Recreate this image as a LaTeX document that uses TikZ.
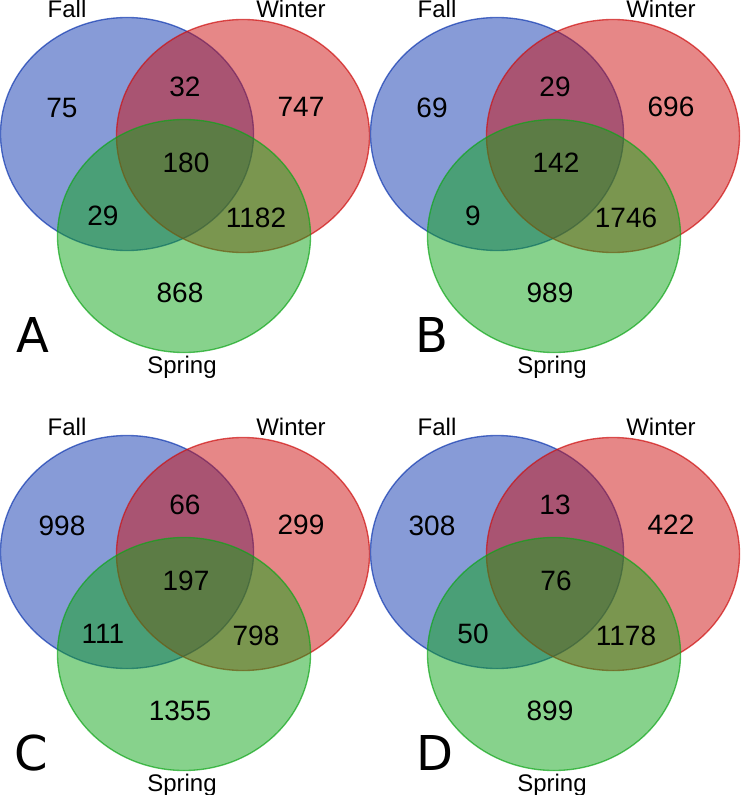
\documentclass[tikz,border=0pt]{standalone}
\usepackage{fontspec}
\setmainfont{Liberation Sans}
\newfontfamily\tagfont{DejaVu Sans}
\begin{document}
\begin{tikzpicture}[x=0.75pt,y=-0.75pt,
	set/.style={fill opacity=0.5,draw opacity=0.7,line width=1pt},
	count/.style={inner sep=0pt,font=\fontsize{21}{25}\selectfont},
	season/.style={inner sep=0pt,font=\fontsize{18}{21}\selectfont},
	tag/.style={inner sep=0pt,font=\tagfont\fontsize{36}{40}\selectfont}]
	\pgfmathsetmacro{\rx}{126.5}
	\pgfmathsetmacro{\ry}{116.5}
	\definecolor{fallcol}{RGB}{15,55,175}
	\definecolor{wintercol}{RGB}{205,15,15}
	\definecolor{springcol}{RGB}{15,165,25}
	\useasboundingbox (0,0) rectangle (741,795);
	\foreach \p/\dx/\dy/\tx/\nf/\nw/\ns/\nfw/\nfs/\nws/\nall in {A/0/0/33/75/747/868/32/29/1182/180, B/370/0/62/69/696/989/29/9/1746/142, C/0/418/31/998/299/1355/66/111/798/197, D/370/418/65/308/422/899/13/50/1178/76}{
		\begin{scope}[shift={(\dx,\dy)}]
			\filldraw[set,fill=fallcol,draw=fallcol] (127,134) ellipse ({\rx} and {\ry});
			\filldraw[set,fill=wintercol,draw=wintercol] (243,136) ellipse ({\rx} and {\ry});
			\filldraw[set,fill=springcol,draw=springcol] (184,236) ellipse ({\rx} and {\ry});
			\node[season] (fall\p) at (67,9) {Fall};
			\node[season] (winter\p) at (291,9) {Winter};
			\node[season] (spring\p) at (182,367) {Spring};
			\node[count] (f\p) at (62,108) {\nf};
			\node[count] (fw\p) at (185,87) {\nfw};
			\node[count] (w\p) at (301,107) {\nw};
			\node[count] (fws\p) at (186,163) {\nall};
			\node[count] (fs\p) at (103,216) {\nfs};
			\node[count] (ws\p) at (256,218) {\nws};
			\node[count] (s\p) at (180,293) {\ns};
			\node[tag] (tag\p) at (\tx,335) {\p};
		\end{scope}
	}
\end{tikzpicture}
\end{document}
